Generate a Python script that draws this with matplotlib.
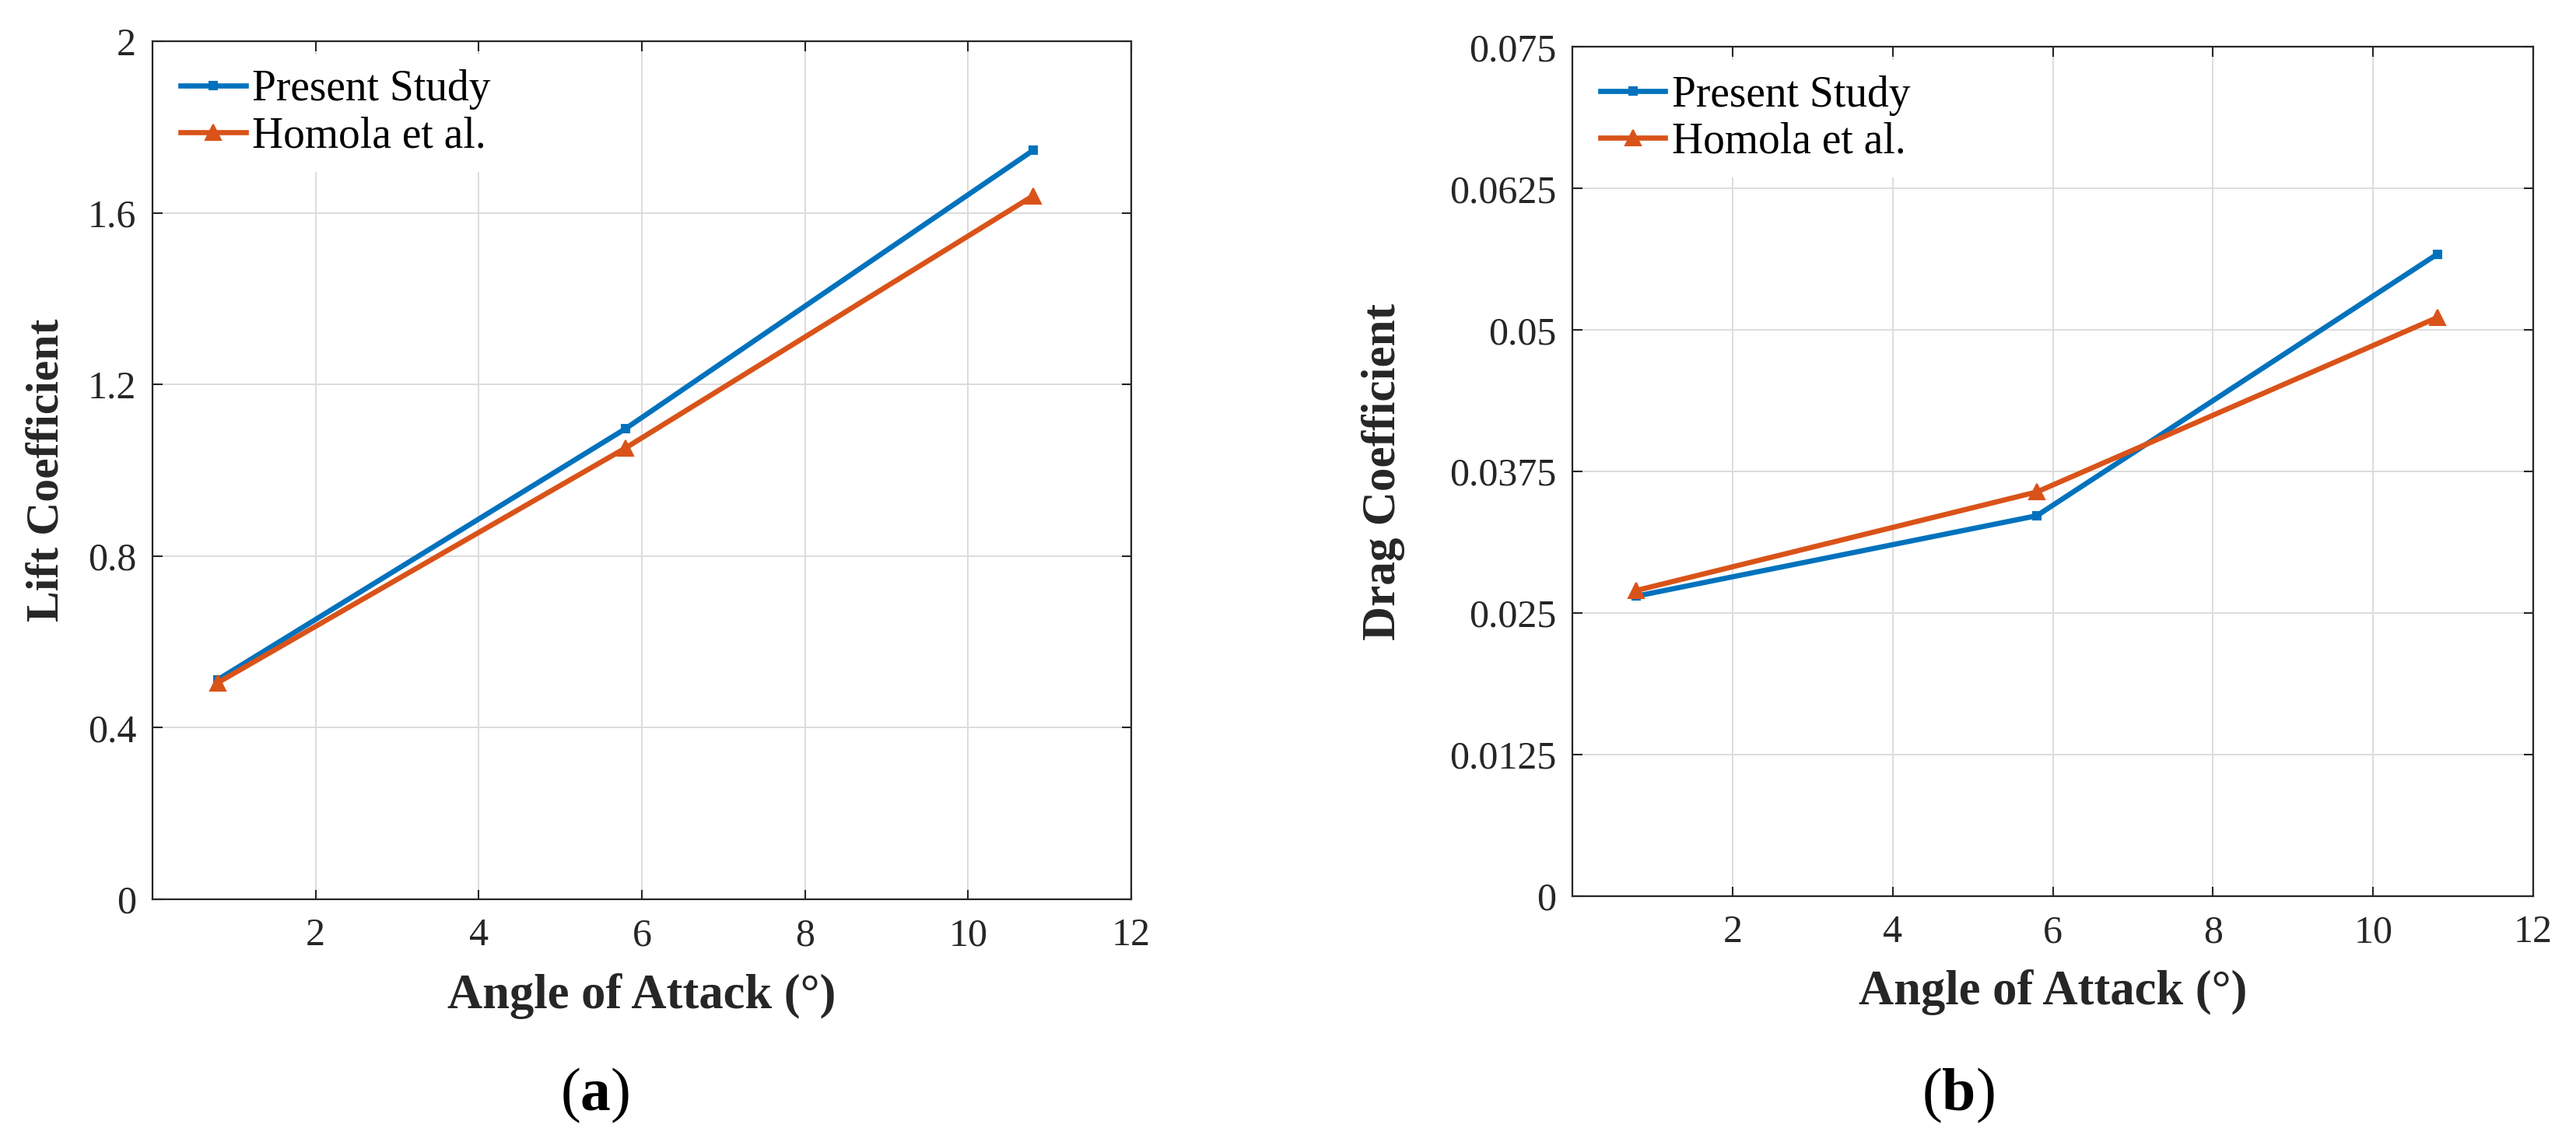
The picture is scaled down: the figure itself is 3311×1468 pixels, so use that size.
import matplotlib
matplotlib.use('Agg')
import matplotlib.pyplot as plt

plt.rcParams['font.family'] = ['Liberation Serif', 'DejaVu Serif']
plt.rcParams['mathtext.fontset'] = 'custom'
plt.rcParams['mathtext.rm'] = 'Liberation Serif'
plt.rcParams['mathtext.bf'] = 'Liberation Serif:bold'

# data
aoa = [0.8, 5.8, 10.8]
cl_present = [0.512, 1.097, 1.746]
cl_homola = [0.505, 1.052, 1.640]
cd_present = [0.0265, 0.0336, 0.0567]
cd_homola = [0.0270, 0.0357, 0.0511]

x_ticks = [2, 4, 6, 8, 10, 12]
x_ticklabels = ['2', '4', '6', '8', '10', '12']
cl_ticks = [0, 0.4, 0.8, 1.2, 1.6, 2]
cl_ticklabels = ['0', '0.4', '0.8', '1.2', '1.6', '2']
cd_ticks = [0, 0.0125, 0.025, 0.0375, 0.05, 0.0625, 0.075]
cd_ticklabels = ['0', '0.0125', '0.025', '0.0375', '0.05', '0.0625', '0.075']
series_names = ['Present Study', 'Homola et al.']

BLUE = '#0072BD'
ORANGE = '#D95319'
TXT = '#262626'

fig = plt.figure(figsize=(33.12, 14.68), dpi=100)
ax1 = fig.add_axes([0.0592, 0.2125, 0.3798, 0.7514])
ax2 = fig.add_axes([0.6102, 0.2153, 0.3729, 0.7435])


def rysuj(ax, y1, y2, yticks, ylabels, ytxt, ylab_x, ylab_fs):
    ax.plot(aoa, y1, color=BLUE, lw=4.8, marker='s', ms=7, mew=1.5,
            mfc=BLUE, mec=BLUE, label=series_names[0])
    ax.plot(aoa, y2, color=ORANGE, lw=4.8, marker='^', ms=14, mew=1.5,
            mfc=ORANGE, mec=ORANGE, label=series_names[1])
    ax.set_xlim(0, 12)
    ax.set_ylim(yticks[0], yticks[-1])
    ax.set_xticks(x_ticks)
    ax.set_xticklabels(x_ticklabels)
    ax.set_yticks(yticks)
    ax.set_yticklabels(ylabels)
    ax.set_axisbelow(True)
    ax.grid(True, color='#DCDCDC', lw=1.4)
    for s in ax.spines.values():
        s.set_color(TXT)
        s.set_linewidth(1.6)
    ax.tick_params(axis='both', direction='in', length=9, width=1.5,
                   colors=TXT, labelsize=36, top=True, right=True)
    ax.tick_params(axis='x', pad=17)
    ax.tick_params(axis='y', pad=15)
    ax.set_xlabel('Angle of Attack (°)', fontsize=45, fontweight='bold',
                  color=TXT, va='center')
    ax.xaxis.set_label_coords(0.5, -0.113)
    ax.set_ylabel(ytxt, fontsize=ylab_fs, fontweight='bold', color=TXT, va='center')
    ax.yaxis.set_label_coords(ylab_x, 0.5)
    leg = ax.legend(loc='upper left', fontsize=40, handlelength=1.5,
                    handletextpad=0.15, borderaxespad=0.3, borderpad=0.35,
                    labelspacing=0.15, frameon=True, fancybox=False,
                    framealpha=1)
    leg.get_frame().set_edgecolor('none')
    leg.get_frame().set_facecolor('white')


rysuj(ax1, cl_present, cl_homola, cl_ticks, cl_ticklabels, 'Lift Coefficient', -0.107, 43)
rysuj(ax2, cd_present, cd_homola, cd_ticks, cd_ticklabels, 'Drag Coefficient', -0.197, 44)

# podpisy (a) i (b)
fig.text(0.231, 0.041, r'($\mathbf{a}$)', fontsize=56, ha='center', va='center')
fig.text(0.760, 0.041, r'($\mathbf{b}$)', fontsize=56, ha='center', va='center')

fig.savefig('out.png', dpi=100)
